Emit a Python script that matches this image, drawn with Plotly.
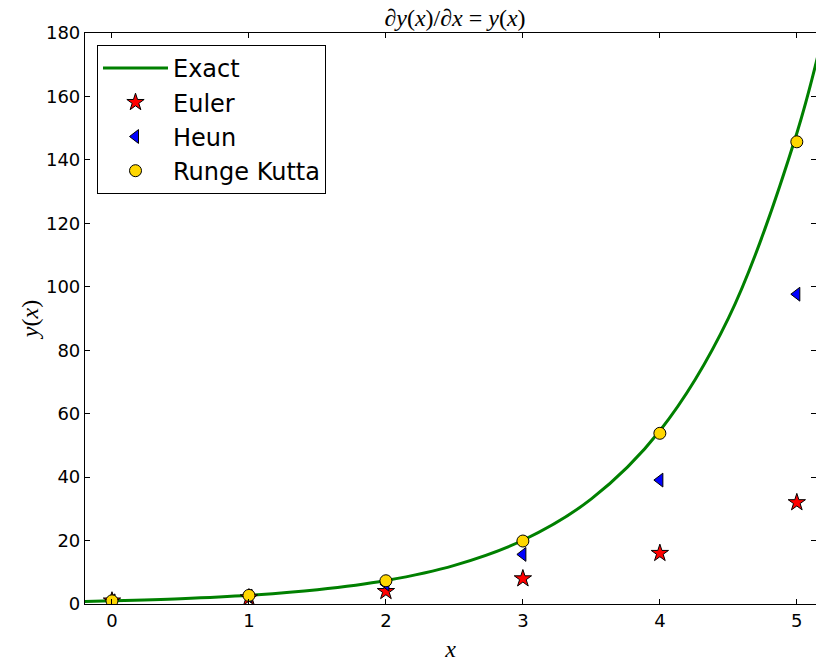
import plotly.graph_objects as go

# Data
x_steps = [0, 1, 2, 3, 4, 5]
euler = [1, 2, 4, 8, 16, 32]
heun = [1, 2.5, 6.25, 15.63, 39.06, 97.66]
runge_kutta = [1, 2.71, 7.33, 19.85, 53.81, 145.7]

x_exact = [-0.2, 0.0, 0.5, 1.0, 1.5, 2.0, 2.5, 3.0, 3.5, 4.0, 4.5, 5.0, 5.25]
y_exact = [0.82, 1.0, 1.65, 2.72, 4.48, 7.39, 12.18, 20.09, 33.12, 54.6, 90.02, 148.41, 190.57]

x_ticks = [0, 1, 2, 3, 4, 5]
y_ticks = [0, 20, 40, 60, 80, 100, 120, 140, 160, 180]

fig = go.Figure()
fig.add_trace(go.Scatter(x=x_exact, y=y_exact, mode="lines", name="Exact",
                         line=dict(color="#008000", width=3, shape="spline"),
                         legendgroup="a"))
fig.add_trace(go.Scatter(x=x_steps, y=euler, mode="markers", name="Euler",
                         marker=dict(symbol="star", size=13, color="red",
                                     line=dict(color="black", width=1)),
                         legendgroup="b"))
fig.add_trace(go.Scatter(x=x_steps, y=heun, mode="markers", name="Heun",
                         marker=dict(symbol="triangle-left", size=12, color="blue",
                                     line=dict(color="black", width=1)),
                         legendgroup="c"))
fig.add_trace(go.Scatter(x=x_steps, y=runge_kutta, mode="markers", name="Runge Kutta",
                         marker=dict(symbol="circle", size=12, color="#FFD700",
                                     line=dict(color="black", width=1)),
                         legendgroup="d"))

axis_common = dict(showline=True, linecolor="black", linewidth=1.2, mirror="allticks",
                   ticks="inside", ticklen=5, tickcolor="black", showgrid=False,
                   zeroline=False, tickfont=dict(family="DejaVu Sans", size=18, color="black"))

fig.update_layout(
    width=816, height=662,
    margin=dict(l=85, r=0, t=33, b=58),
    plot_bgcolor="white", paper_bgcolor="white",
    title=dict(text="∂<i>y</i>(<i>x</i>)/∂<i>x</i> = <i>y</i>(<i>x</i>)",
               x=455 / 816, xanchor="center", y=1 - 18 / 662, yanchor="middle",
               font=dict(family="Liberation Serif", size=24, color="black")),
    xaxis=dict(range=[-0.197, 5.14], tickvals=x_ticks,
               title=dict(text="<i>x</i>", font=dict(family="Liberation Serif", size=24, color="black"),
                          standoff=12),
               **axis_common),
    yaxis=dict(range=[0, 180], tickvals=y_ticks,
               title=dict(text="<i>y</i>(<i>x</i>)", font=dict(family="Liberation Serif", size=24, color="black"),
                          standoff=0),
               **axis_common),
    legend=dict(x=12 / 731, y=1 - 12 / 571, xanchor="left", yanchor="top",
                bordercolor="black", borderwidth=1, bgcolor="white",
                font=dict(family="DejaVu Sans", size=24, color="black"),
                traceorder="grouped", tracegroupgap=0, itemwidth=65),
    showlegend=True,
)

fig.write_html("out.html")
